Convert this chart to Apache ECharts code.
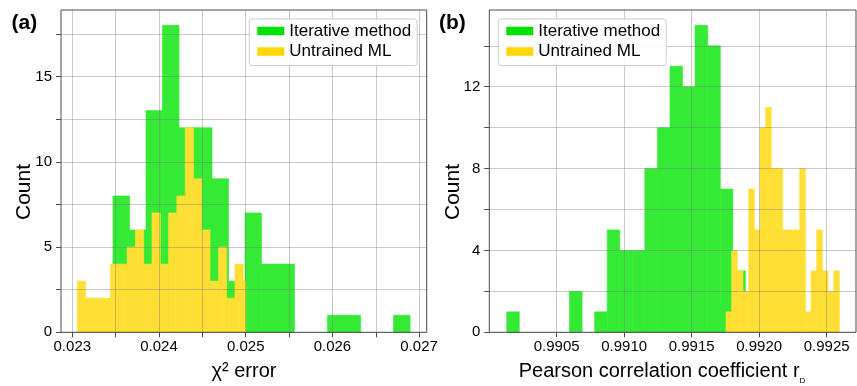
<!DOCTYPE html>
<html><head><meta charset="utf-8">
<script src="https://cdn.jsdelivr.net/npm/echarts@6/dist/echarts.min.js"></script>
<style>html,body{margin:0;padding:0;background:#fff}#c{width:857px;height:386px}</style>
</head><body><div id="c"></div>
<script>
// ---------- data ----------
const seriesNames = ['Iterative method', 'Untrained ML'];
// Panel (a): chi^2 error histograms (bin edges + counts)
const aIterEdges = [0.023469,0.023660,0.023850,0.024040,0.024231,0.024421,0.024611,0.024802,0.024992,0.025182,0.025373,0.025563,0.025754,0.025944,0.026134,0.026325,0.026515,0.026705,0.026896];
const aIterCounts = [8,6,13,18,12,12,9,3,7,4,4,0,0,1,1,0,0,1];
const aMlEdges = [0.023058,0.023153,0.023249,0.023345,0.023441,0.023536,0.023632,0.023728,0.023823,0.023919,0.024015,0.024111,0.024206,0.024302,0.024398,0.024493,0.024589,0.024685,0.024781,0.024876,0.024972,0.025000];
const aMlCounts = [3,2,2,2,4,4,5,6,4,7,4,7,8,12,9,6,3,5,2,4,3];
const aXTicks = [0.023,0.0235,0.024,0.0245,0.025,0.0255,0.026,0.0265,0.027];
const aXLabels = [0.023,0.024,0.025,0.026,0.027];
const aYTicks = [0,2.5,5,7.5,10,12.5,15,17.5];
const aYLabels = [0,5,10,15];
// Panel (b): Pearson correlation coefficient histograms
const bIterEdges = [0.990130,0.990223,0.990316,0.990409,0.990502,0.990595,0.990688,0.990781,0.990874,0.990967,0.991060,0.991153,0.991246,0.991339,0.991432,0.991525,0.991619,0.991712,0.991805,0.991898];
const bIterCounts = [1,0,0,0,0,2,0,1,5,4,4,8,10,13,12,15,14,7,3];
const bMlEdges = [0.991754,0.991796,0.991838,0.991880,0.991922,0.991964,0.992006,0.992048,0.992090,0.992132,0.992174,0.992216,0.992258,0.992300,0.992342,0.992384,0.992426,0.992468,0.992510,0.992552,0.992594];
const bMlCounts = [1,4,3,2,7,5,10,11,8,8,5,5,5,8,1,3,5,3,2,3];
const bXTicks = [0.9905,0.9910,0.9915,0.9920,0.9925];
const bXLabels = [0.9905,0.9910,0.9915,0.9920,0.9925];
const bYTicks = [0,2,4,6,8,10,12,14];
const bYLabels = [0,4,8,12];

// ---------- styling ----------
const FONT = '"Liberation Sans", Arial, sans-serif';
const GREEN_BAR = '#34ea34', YELLOW_BAR = '#ffdf33';
const GREEN_LEG = '#00e000', YELLOW_LEG = '#ffd700';
const GRID_C = 'rgba(120,120,120,0.4)', FRAME_C = '#4a4a4a';

const gA = {left: 61, top: 10, width: 365.7, height: 322.3};
const gB = {left: 489.3, top: 10, width: 366.7, height: 322.3};

function bins(edges, counts) {
  const out = [];
  counts.forEach((c, i) => { if (c > 0) out.push([edges[i], edges[i + 1], c]); });
  return out;
}
function renderBar(params, api) {
  const p0 = api.coord([api.value(0), api.value(2)]);
  const p1 = api.coord([api.value(1), 0]);
  const col = api.visual('color');
  return {type: 'rect', shape: {x: p0[0], y: p0[1], width: p1[0] - p0[0], height: p1[1] - p0[1]},
          style: {fill: col, stroke: col, lineWidth: 0.6}};
}
function xAxis(idx, min, max, ticks, labels, dec) {
  return {type: 'value', gridIndex: idx, min: min, max: max, z: 5,
    axisLine: {show: false},
    axisTick: {show: true, length: 5, customValues: ticks, lineStyle: {color: FRAME_C}},
    splitLine: {show: true, lineStyle: {color: GRID_C, width: 1}},
    axisLabel: {customValues: labels, fontSize: 15, fontFamily: FONT, color: '#000', margin: 7,
      formatter: v => v.toFixed(dec)}};
}
function yAxis(idx, max, ticks, labels) {
  return {type: 'value', gridIndex: idx, min: 0, max: max, z: 5,
    axisLine: {show: false},
    axisTick: {show: true, length: 5, customValues: ticks, lineStyle: {color: FRAME_C}},
    splitLine: {show: true, lineStyle: {color: GRID_C, width: 1}},
    axisLabel: {customValues: labels, fontSize: 15, fontFamily: FONT, color: '#000', margin: 9,
      formatter: v => String(Math.round(v))}};
}
function legend(left) {
  return {left: left, top: 19, orient: 'vertical', icon: 'rect', itemWidth: 27, itemHeight: 8.5, itemGap: 2.5,
    padding: [3, 6, 5, 8], backgroundColor: 'rgba(255,255,255,0.85)', borderColor: '#cccccc', borderWidth: 1,
    borderRadius: 3, selectedMode: false, z: 10,
    textStyle: {fontSize: 17, fontFamily: FONT, color: '#000', lineHeight: 18},
    data: [{name: seriesNames[0], itemStyle: {color: GREEN_LEG}}, {name: seriesNames[1], itemStyle: {color: YELLOW_LEG}}]};
}
function frame(g) {
  return {type: 'rect', z: 100, silent: true, shape: {x: g.left, y: g.top, width: g.width, height: g.height},
    style: {fill: null, stroke: FRAME_C, lineWidth: 1}};
}
function txt(x, y, text, size, extra) {
  return Object.assign({type: 'text', x: x, y: y, z: 100, silent: true,
    style: Object.assign({text: text, fontSize: size, fontFamily: FONT, fill: '#000', align: 'center', verticalAlign: 'middle'}, extra && extra.style || {})},
    extra && extra.el || {});
}

const option = {
  animation: false,
  backgroundColor: '#fff',
  grid: [gA, gB],
  xAxis: [xAxis(0, 0.0228697, 0.0270876, aXTicks, aXLabels, 3),
          xAxis(1, 0.9900007, 0.9927170, bXTicks, bXLabels, 4)],
  yAxis: [yAxis(0, 18.9, aYTicks, aYLabels), yAxis(1, 15.75, bYTicks, bYLabels)],
  legend: [legend(249.3), legend(498.3)],
  series: [
    {type: 'custom', name: seriesNames[0], xAxisIndex: 0, yAxisIndex: 0, renderItem: renderBar,
     itemStyle: {color: GREEN_BAR}, encode: {x: [0, 1], y: 2}, data: bins(aIterEdges, aIterCounts)},
    {type: 'custom', name: seriesNames[1], xAxisIndex: 0, yAxisIndex: 0, renderItem: renderBar,
     itemStyle: {color: YELLOW_BAR}, encode: {x: [0, 1], y: 2}, data: bins(aMlEdges, aMlCounts)},
    {type: 'custom', name: seriesNames[0], xAxisIndex: 1, yAxisIndex: 1, renderItem: renderBar,
     itemStyle: {color: GREEN_BAR}, encode: {x: [0, 1], y: 2}, data: bins(bIterEdges, bIterCounts)},
    {type: 'custom', name: seriesNames[1], xAxisIndex: 1, yAxisIndex: 1, renderItem: renderBar,
     itemStyle: {color: YELLOW_BAR}, encode: {x: [0, 1], y: 2}, data: bins(bMlEdges, bMlCounts)}
  ],
  graphic: [
    frame(gA), frame(gB),
    txt(11.5, 23, '(a)', 21, {style: {fontWeight: 'bold', align: 'left'}}),
    txt(439, 23, '(b)', 21, {style: {fontWeight: 'bold', align: 'left'}}),
    txt(24, 192, 'Count', 21, {el: {rotation: Math.PI / 2}}),
    txt(453, 192, 'Count', 21, {el: {rotation: Math.PI / 2}}),
    txt(244, 371, 'χ² error', 20),
    txt(662, 371, 'Pearson correlation coefficient r{s|D}', 20,
        {style: {rich: {s: {fontSize: 8, fontFamily: FONT, lineHeight: 28, verticalAlign: 'bottom'}}}})
  ]
};
const chart = echarts.init(document.getElementById('c'), null, {renderer: 'canvas'});
chart.setOption(option);
</script>
</body></html>
